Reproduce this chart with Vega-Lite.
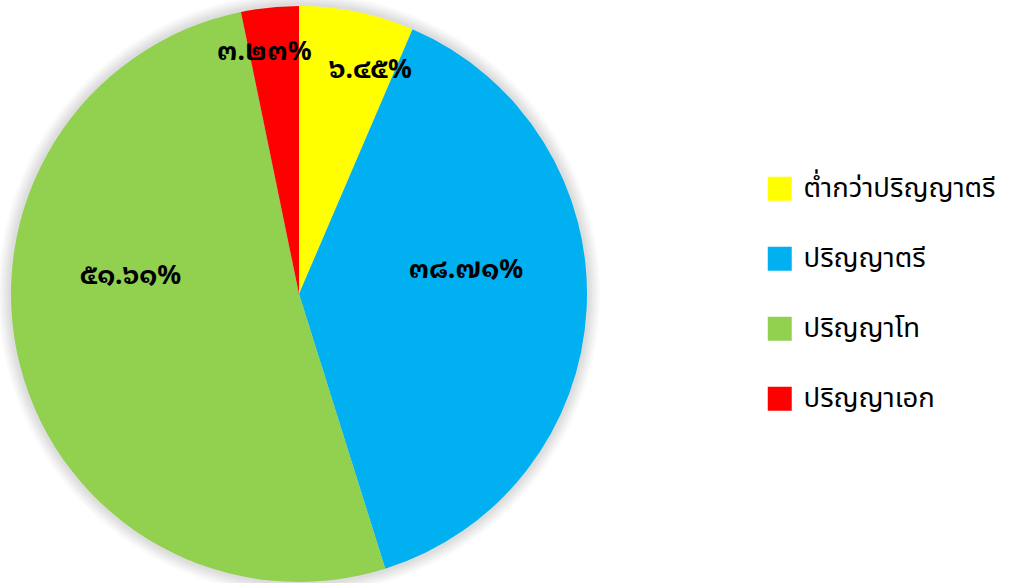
{
  "$schema": "https://vega.github.io/schema/vega-lite/v6.json",
  "width": 1010,
  "height": 583,
  "autosize": "none",
  "padding": 0,
  "background": "white",
  "config": {"view": {"stroke": null}},
  "datasets": {
    "edu": [
      {"level": "ต่ำกว่าปริญญาตรี", "pct": 6.45, "label": "๖.๔๕%", "ord": 1},
      {"level": "ปริญญาตรี", "pct": 38.71, "label": "๓๘.๗๑%", "ord": 2},
      {"level": "ปริญญาโท", "pct": 51.61, "label": "๕๑.๖๑%", "ord": 3},
      {"level": "ปริญญาเอก", "pct": 3.23, "label": "๓.๒๓%", "ord": 4}
    ],
    "ring": [{"v": 1}]
  },
  "resolve": {"scale": {"theta": "independent"}},
  "layer": [
    {"data": {"name": "ring"}, "mark": {"type": "arc", "outerRadius": 301, "x": 299, "y": 294, "fill": "#000", "opacity": 0.02}, "encoding": {"theta": {"field": "v", "type": "quantitative"}}},
    {"data": {"name": "ring"}, "mark": {"type": "arc", "outerRadius": 299, "x": 299, "y": 294, "fill": "#000", "opacity": 0.02}, "encoding": {"theta": {"field": "v", "type": "quantitative"}}},
    {"data": {"name": "ring"}, "mark": {"type": "arc", "outerRadius": 297, "x": 299, "y": 294, "fill": "#000", "opacity": 0.025}, "encoding": {"theta": {"field": "v", "type": "quantitative"}}},
    {"data": {"name": "ring"}, "mark": {"type": "arc", "outerRadius": 295, "x": 299, "y": 294, "fill": "#000", "opacity": 0.025}, "encoding": {"theta": {"field": "v", "type": "quantitative"}}},
    {"data": {"name": "ring"}, "mark": {"type": "arc", "outerRadius": 293, "x": 299, "y": 294, "fill": "#000", "opacity": 0.025}, "encoding": {"theta": {"field": "v", "type": "quantitative"}}},
    {"data": {"name": "ring"}, "mark": {"type": "arc", "outerRadius": 291, "x": 299, "y": 294, "fill": "#000", "opacity": 0.025}, "encoding": {"theta": {"field": "v", "type": "quantitative"}}},
    {
      "data": {"name": "edu"},
      "mark": {"type": "arc", "outerRadius": 288, "x": 299, "y": 294},
      "encoding": {
        "theta": {"field": "pct", "type": "quantitative", "stack": true},
        "order": {"field": "ord", "type": "quantitative"},
        "color": {
          "field": "level",
          "type": "nominal",
          "sort": ["ต่ำกว่าปริญญาตรี", "ปริญญาตรี", "ปริญญาโท", "ปริญญาเอก"],
          "scale": {
            "domain": ["ต่ำกว่าปริญญาตรี", "ปริญญาตรี", "ปริญญาโท", "ปริญญาเอก"],
            "range": ["#FFFF00", "#00B0F0", "#92D050", "#FF0000"]
          },
          "legend": {
            "orient": "none",
            "legendX": 766,
            "legendY": 175,
            "title": null,
            "symbolType": "square",
            "symbolSize": 576,
            "symbolStrokeWidth": 0,
            "labelFontSize": 27.5,
            "labelFont": "Noto Sans Thai, Noto Sans, DejaVu Sans, sans-serif",
            "labelColor": "#000",
            "labelOffset": 10,
            "rowPadding": 41,
            "labelLimit": 400
          }
        }
      }
    },
    {
      "data": {"name": "edu"},
      "mark": {"type": "text", "radius": 235, "x": 299, "y": 294, "dx": 24, "dy": 6, "fontSize": 26.5, "fontWeight": "bold", "font": "Noto Sans Thai Looped, Noto Sans, DejaVu Sans, sans-serif", "fill": "#000", "baseline": "middle", "align": "center"},
      "encoding": {
        "theta": {"field": "pct", "type": "quantitative", "stack": true},
        "order": {"field": "ord", "type": "quantitative"},
        "text": {"condition": {"test": "datum.ord === 1", "field": "label"}, "value": ""}
      }
    },
    {
      "data": {"name": "edu"},
      "mark": {"type": "text", "radius": 170, "x": 299, "y": 294, "dx": -3, "dy": -33, "fontSize": 26.5, "fontWeight": "bold", "font": "Noto Sans Thai Looped, Noto Sans, DejaVu Sans, sans-serif", "fill": "#000", "baseline": "middle", "align": "center"},
      "encoding": {
        "theta": {"field": "pct", "type": "quantitative", "stack": true},
        "order": {"field": "ord", "type": "quantitative"},
        "text": {"condition": {"test": "datum.ord === 2", "field": "label"}, "value": ""}
      }
    },
    {
      "data": {"name": "edu"},
      "mark": {"type": "text", "radius": 170, "x": 299, "y": 294, "dx": -4, "dy": -61, "fontSize": 26.5, "fontWeight": "bold", "font": "Noto Sans Thai Looped, Noto Sans, DejaVu Sans, sans-serif", "fill": "#000", "baseline": "middle", "align": "center"},
      "encoding": {
        "theta": {"field": "pct", "type": "quantitative", "stack": true},
        "order": {"field": "ord", "type": "quantitative"},
        "text": {"condition": {"test": "datum.ord === 3", "field": "label"}, "value": ""}
      }
    },
    {
      "data": {"name": "edu"},
      "mark": {"type": "text", "radius": 245, "x": 299, "y": 294, "dx": -10, "dy": 2, "fontSize": 26.5, "fontWeight": "bold", "font": "Noto Sans Thai Looped, Noto Sans, DejaVu Sans, sans-serif", "fill": "#000", "baseline": "middle", "align": "center"},
      "encoding": {
        "theta": {"field": "pct", "type": "quantitative", "stack": true},
        "order": {"field": "ord", "type": "quantitative"},
        "text": {"condition": {"test": "datum.ord === 4", "field": "label"}, "value": ""}
      }
    }
  ]
}
